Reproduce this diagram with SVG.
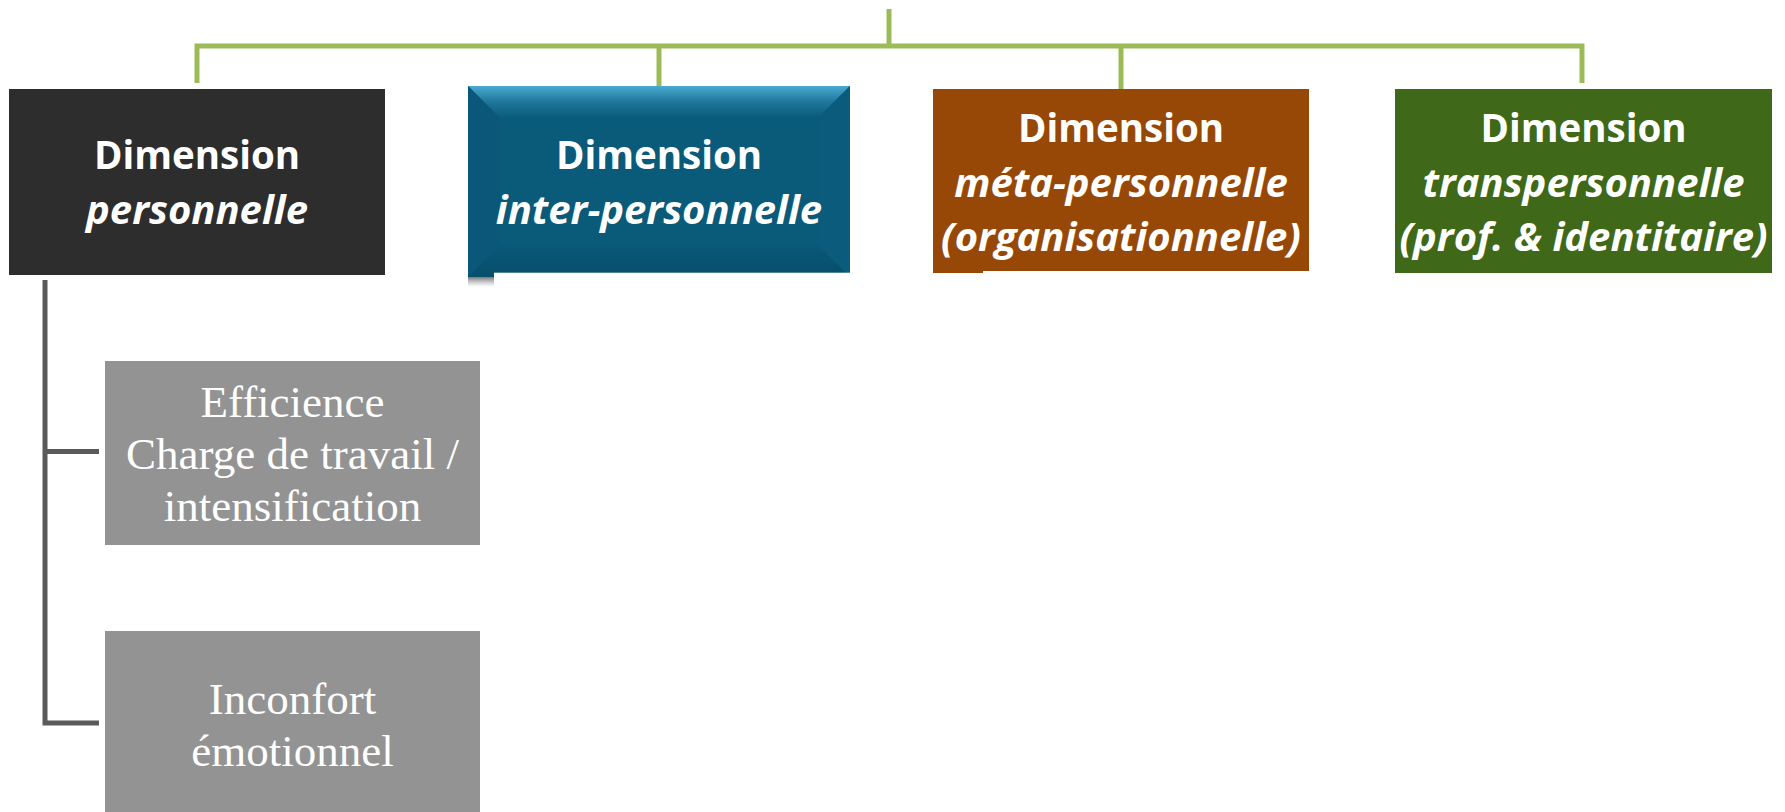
<svg xmlns="http://www.w3.org/2000/svg" width="1785" height="812" viewBox="0 0 1785 812">
<defs>
<style>
.t{font-family:"Open Sans","Noto Sans",sans-serif;font-weight:bold;font-size:38.5px;fill:#fff;text-anchor:middle}
.i{font-style:italic;font-size:40px}
.s{font-family:"Liberation Serif","Times New Roman",serif;font-size:45px;fill:#fff;text-anchor:middle}
.g{stroke:#9BBB59;stroke-width:5;fill:none}
.d{stroke:#5A5A5A;stroke-width:5;fill:none}
</style>
<linearGradient id="topBevel" x1="0" y1="0" x2="0" y2="1">
<stop offset="0" stop-color="#4AAAD2"/>
<stop offset="0.5" stop-color="#1E7699"/>
<stop offset="1" stop-color="#0A5B7A"/>
</linearGradient>
<linearGradient id="botBevel" x1="0" y1="0" x2="0" y2="1">
<stop offset="0" stop-color="#0A5877"/>
<stop offset="1" stop-color="#064E6C"/>
</linearGradient>
<linearGradient id="shadow" x1="0" y1="0" x2="0" y2="1">
<stop offset="0" stop-color="#555" stop-opacity="0.8"/>
<stop offset="1" stop-color="#999" stop-opacity="0"/>
</linearGradient>
</defs>
<rect width="1785" height="812" fill="#fff"/>
<g id="connectors">
<path class="g" d="M889,9 V46 M197,83 V46 H1582 V83 M659,46 V86 M1121,46 V89"/>
<path class="d" d="M45,280 V723 H99 M45,451.5 H99"/>
</g>
<g id="node-personnelle">
<rect x="9" y="89" width="376" height="186" fill="#2D2D2D"/>
<text class="t" x="197" y="169">Dimension</text>
<text class="t i" x="197" y="224">personnelle</text>
</g>
<g id="node-inter">
<rect x="468" y="277" width="30" height="10" fill="url(#shadow)"/>
<rect x="468" y="86" width="382" height="191" fill="#0A5A79"/>
<polygon points="468,86 850,86 818,118 500,118" fill="url(#topBevel)"/>
<polygon points="468,86 500,118 500,245 468,277" fill="#0A577A"/>
<polygon points="850,86 850,277 818,245 818,118" fill="#0B5C7C"/>
<polygon points="468,277 500,245 818,245 850,277" fill="url(#botBevel)"/>
<rect x="494" y="272.7" width="370" height="25" fill="#fff"/>
<text class="t" x="659" y="169">Dimension</text>
<text class="t i" x="659" y="224">inter-personnelle</text>
</g>
<g id="node-meta">
<rect x="933" y="89" width="376" height="184" fill="#974806"/>
<rect x="983" y="271" width="330" height="4" fill="#fff"/>
<text class="t" x="1121" y="142">Dimension</text>
<text class="t i" x="1121" y="197">méta-personnelle</text>
<text class="t i" x="1121" y="251">(organisationnelle)</text>
</g>
<g id="node-trans">
<rect x="1395" y="89" width="377" height="184" fill="#3F6818"/>
<text class="t" x="1583.5" y="142">Dimension</text>
<text class="t i" x="1583.5" y="197">transpersonnelle</text>
<text class="t i" x="1583.5" y="251">(prof. &amp; identitaire)</text>
</g>
<g id="node-efficience">
<rect x="105" y="361" width="375" height="184" fill="#939393"/>
<text class="s" x="292.5" y="417">Efficience</text>
<text class="s" x="292.5" y="469">Charge de travail /</text>
<text class="s" x="292.5" y="521">intensification</text>
</g>
<g id="node-inconfort">
<rect x="105" y="631" width="375" height="181" fill="#939393"/>
<text class="s" x="292.5" y="713.5">Inconfort</text>
<text class="s" x="292.5" y="766">émotionnel</text>
</g>
</svg>
